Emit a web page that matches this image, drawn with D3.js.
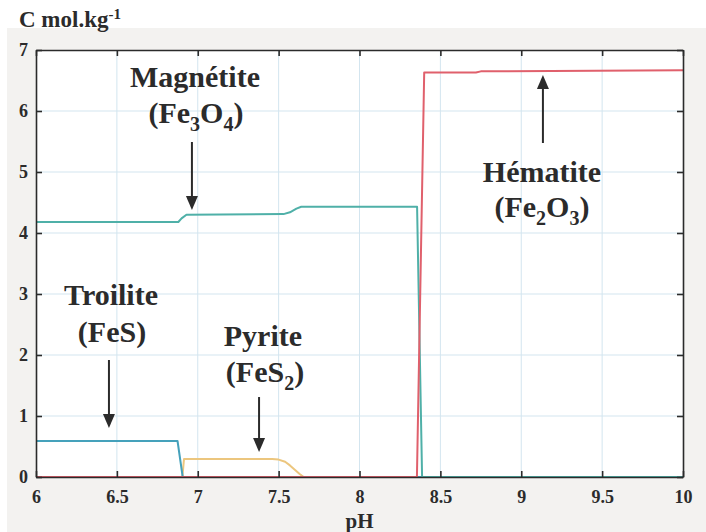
<!DOCTYPE html>
<html>
<head>
<meta charset="utf-8">
<script src="https://cdn.jsdelivr.net/npm/d3@7"></script>
<style>
  body { margin: 0; background: #fff; }
  svg { display: block; }
  text { font-family: "Liberation Serif", "Times New Roman", serif; font-weight: bold; fill: #2b2b2b; }
</style>
</head>
<body>
<svg id="chart" width="706" height="532"></svg>
<script>
// ---- data ----
const xTicks = [6, 6.5, 7, 7.5, 8, 8.5, 9, 9.5, 10];
const yTicks = [0, 1, 2, 3, 4, 5, 6, 7];

const magnetitePH = [6, 6.88, 6.90, 6.93, 7.53, 7.57, 7.61, 7.64, 8.356, 8.387, 10];
const magnetiteC  = [4.18, 4.18, 4.24, 4.30, 4.31, 4.34, 4.40, 4.43, 4.43, 0, 0];

const hematitePH = [6, 8.355, 8.40, 8.72, 8.75, 10];
const hematiteC  = [0, 0, 6.63, 6.63, 6.65, 6.67];

const troilitePH = [6, 6.875, 6.907, 10];
const troiliteC  = [0.59, 0.59, 0, 0];

const pyritePH = [6, 6.905, 6.915, 7.46, 7.50, 7.54, 7.57, 7.60, 7.63, 7.655, 10];
const pyriteC  = [0, 0, 0.295, 0.295, 0.285, 0.25, 0.19, 0.12, 0.05, 0, 0];

// annotations (in data units)
const labelNames = ["Magnétite", "Hématite", "Troilite", "Pyrite"];
const labelFormulas = [
  [["(Fe", 0], ["3", 1], ["O", 0], ["4", 1], [")", 0]],
  [["(Fe", 0], ["2", 1], ["O", 0], ["3", 1], [")", 0]],
  [["(FeS)", 0]],
  [["(FeS", 0], ["2", 1], [")", 0]]
];
const labelPH = [6.983, 9.128, 6.464, 7.403];
const labelC = [6.393, 4.836, 2.820, 2.148];
const formulaPH = [6.989, 9.128, 6.470, 7.416];
const formulaC = [5.803, 4.262, 2.213, 1.557];
const arrowPH = [6.964, 9.134, 6.451, 7.379];
const arrowFromC = [5.492, 5.475, 1.918, 1.311];
const arrowToC = [4.377, 6.590, 0.803, 0.410];

// ---- drawing ----
const svg = d3.select("#chart");
const W = 706, H = 532;
const L = 36, R = 683, T = 50, B = 477;

const x = d3.scaleLinear().domain([6, 10]).range([L, R]);
const y = d3.scaleLinear().domain([0, 7]).range([B, T]);

svg.append("rect").attr("x", 0).attr("y", 0).attr("width", W).attr("height", H).attr("fill", "#ffffff");
svg.append("rect").attr("x", 7).attr("y", 28).attr("width", W - 7).attr("height", H - 28).attr("fill", "#f3f2f0");
svg.append("rect").attr("x", L).attr("y", T).attr("width", R - L).attr("height", B - T).attr("fill", "#ffffff");

// grid
const grid = svg.append("g");
grid.selectAll("line.vx").data(xTicks.slice(1, -1)).join("line")
  .attr("x1", d => x(d)).attr("x2", d => x(d)).attr("y1", T).attr("y2", B)
  .attr("stroke", "#d3e5ef").attr("stroke-width", 1);
grid.selectAll("line.hy").data(yTicks.slice(1, -1)).join("line")
  .attr("y1", d => y(d)).attr("y2", d => y(d)).attr("x1", L).attr("x2", R)
  .attr("stroke", "#d3e5ef").attr("stroke-width", 1);

// series
const line = d3.line().x(d => x(d[0])).y(d => y(d[1]));
function series(ph, c, color, w) {
  svg.append("path").datum(ph.map((p, i) => [p, c[i]]))
    .attr("d", line).attr("fill", "none").attr("stroke", color)
    .attr("stroke-width", w).attr("stroke-linejoin", "round");
}
series(pyritePH, pyriteC, "#ecc67e", 2);
series(troilitePH, troiliteC, "#45a1bb", 2);
series(magnetitePH, magnetiteC, "#4fb0a8", 2);
series(hematitePH, hematiteC, "#e0606c", 2);

// axes
function styleAxis(g) {
  g.selectAll(".domain").attr("stroke", "#2b2b2b").attr("stroke-width", 1.6);
  g.selectAll(".tick line").attr("stroke", "#2b2b2b").attr("stroke-width", 1.6);
  g.selectAll(".tick text").attr("font-family", "Liberation Serif").attr("font-weight", "bold")
    .attr("font-size", 18).attr("fill", "#2b2b2b");
}
svg.append("g").attr("transform", `translate(0,${B})`)
  .call(d3.axisBottom(x).tickValues(xTicks).tickFormat(d3.format("~g")).tickSizeInner(-6).tickSizeOuter(0).tickPadding(13))
  .call(styleAxis);
svg.append("g").attr("transform", `translate(0,${T})`)
  .call(d3.axisTop(x).tickValues(xTicks).tickFormat("").tickSizeInner(-6).tickSizeOuter(0))
  .call(styleAxis);
svg.append("g").attr("transform", `translate(${L},0)`)
  .call(d3.axisLeft(y).tickValues(yTicks).tickFormat(d3.format("~g")).tickSizeInner(-6).tickSizeOuter(0).tickPadding(8))
  .call(styleAxis);
svg.append("g").attr("transform", `translate(${R},0)`)
  .call(d3.axisRight(y).tickValues(yTicks).tickFormat("").tickSizeInner(-6).tickSizeOuter(0))
  .call(styleAxis);

// axis titles
const title = svg.append("text").attr("x", 19).attr("y", 27).attr("font-size", 23);
title.append("tspan").text("C mol.kg");
title.append("tspan").attr("dy", -8).attr("font-size", 15).text("-1");

svg.append("text").attr("x", x(8)).attr("y", 528).attr("text-anchor", "middle")
  .attr("font-size", 21).text("pH");

// annotations
labelNames.forEach((name, i) => {
  svg.append("text").attr("x", x(labelPH[i])).attr("y", y(labelC[i]))
    .attr("text-anchor", "middle").attr("font-size", 30).text(name);
  const t = svg.append("text").attr("x", x(formulaPH[i])).attr("y", y(formulaC[i]))
    .attr("text-anchor", "middle").attr("font-size", 30);
  let shifted = 0;
  labelFormulas[i].forEach(([s, sub]) => {
    const ts = t.append("tspan").text(s);
    if (sub && !shifted) { ts.attr("dy", 8).attr("font-size", 20); shifted = 1; }
    else if (sub && shifted) { ts.attr("font-size", 20); }
    else if (!sub && shifted) { ts.attr("dy", -8); shifted = 0; }
  });
  // arrow
  const ax = x(arrowPH[i]);
  const y0 = y(arrowFromC[i]), y1 = y(arrowToC[i]);
  const dir = y1 > y0 ? 1 : -1;
  const headLen = 14, headW = 6;
  svg.append("line").attr("x1", ax).attr("x2", ax).attr("y1", y0).attr("y2", y1 - dir * headLen)
    .attr("stroke", "#2b2b2b").attr("stroke-width", 2);
  svg.append("path")
    .attr("d", `M${ax - headW},${y1 - dir * headLen} L${ax + headW},${y1 - dir * headLen} L${ax},${y1} Z`)
    .attr("fill", "#2b2b2b");
});
</script>
</body>
</html>
